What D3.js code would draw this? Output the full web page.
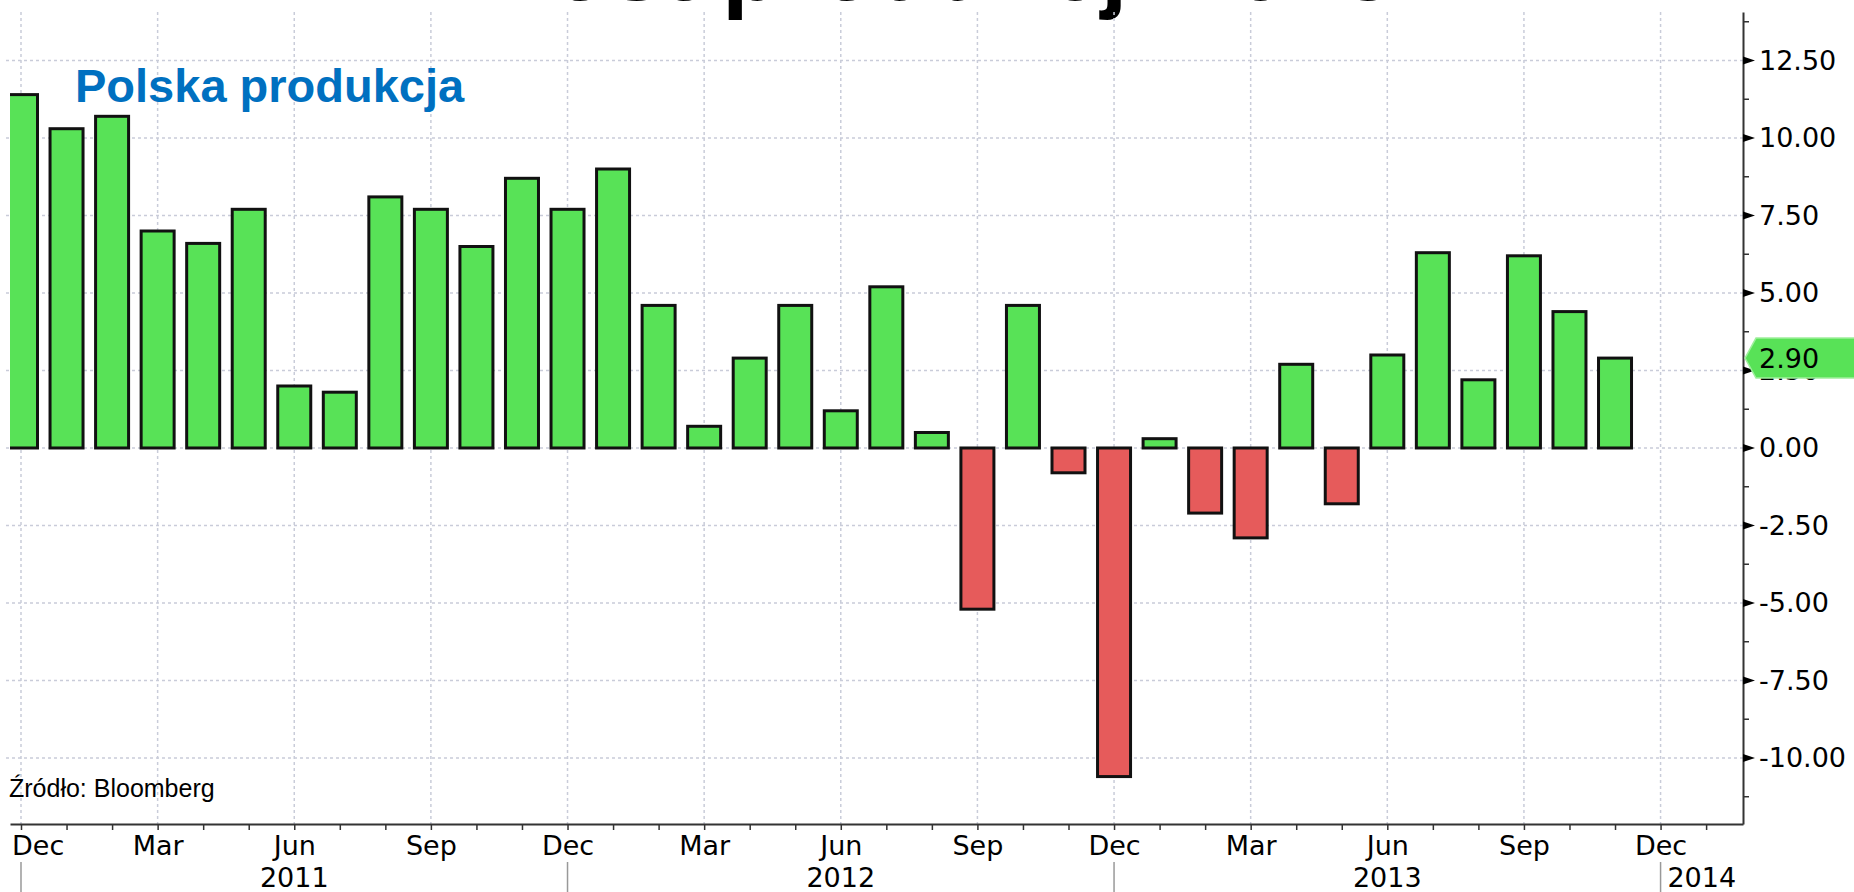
<!DOCTYPE html>
<html><head><meta charset="utf-8">
<script src="https://cdn.jsdelivr.net/npm/d3@7"></script>
<style>
html,body{margin:0;padding:0;background:#fff;overflow:hidden;}
svg{display:block;}
</style></head>
<body>
<svg id="chart" width="1854" height="892"></svg>
<script>
// ---- data ----
const months = ["2010-12","2011-01","2011-02","2011-03","2011-04","2011-05","2011-06","2011-07","2011-08","2011-09","2011-10","2011-11",
  "2011-12","2012-01","2012-02","2012-03","2012-04","2012-05","2012-06","2012-07","2012-08","2012-09","2012-10","2012-11",
  "2012-12","2013-01","2013-02","2013-03","2013-04","2013-05","2013-06","2013-07","2013-08","2013-09","2013-10","2013-11"];
const values = [11.4,10.3,10.7,7.0,6.6,7.7,2.0,1.8,8.1,7.7,6.5,8.7,
  7.7,9.0,4.6,0.7,2.9,4.6,1.2,5.2,0.5,-5.2,4.6,-0.8,
  -10.6,0.3,-2.1,-2.9,2.7,-1.8,3.0,6.3,2.2,6.2,4.4,2.9];
const quarterLabels = ["Dec","Mar","Jun","Sep","Dec","Mar","Jun","Sep","Dec","Mar","Jun","Sep","Dec"];
const yearLabels = ["2011","2012","2013","2014"];
const yTicks = [12.5,10,7.5,5,2.5,0,-2.5,-5,-7.5,-10];
const lastValue = 2.90;
const seriesName = "Polska produkcja";
const sourceText = "Źródło: Bloomberg";
const titleText = "Wzrost produkcji 2013";

// ---- layout ----
const svg = d3.select("#chart");
const L = 10, R = 1743, T = 12, B = 824;
const x = d3.scaleLinear().domain([-0.2415, 37.81]).range([L, R]);
const y = d3.scaleLinear().domain([-12.13, 14.065]).range([B, T]);
const axisFont = "'DejaVu Sans', Verdana, sans-serif";
const gridColor = "#c9ccd9";
const fmt = d3.formatLocale({decimal:".", thousands:",", grouping:[3], currency:["",""], minus:"-"}).format(".2f");

// title (mostly clipped at top)
const title = svg.append("text").attr("y", 0).attr("x", 0)
  .attr("font-family", "'Liberation Sans', Arial, sans-serif").attr("font-weight", "bold")
  .attr("font-size", 96).attr("fill", "#000").text(titleText);
const pPos = title.node().getStartPositionOfChar(titleText.indexOf("p")).x;
title.attr("x", 722 - pPos);

// gridlines
const g = svg.append("g");
g.selectAll(".hg").data(yTicks).join("line")
  .attr("x1", L - 4).attr("x2", R).attr("y1", d => y(d)).attr("y2", d => y(d))
  .attr("stroke", gridColor).attr("stroke-width", 1.5).attr("stroke-dasharray", "3,3");
const quarterIdx = d3.range(0, 37, 3);
g.selectAll(".vg").data(quarterIdx).join("line")
  .attr("x1", d => x(d)).attr("x2", d => x(d)).attr("y1", T).attr("y2", B)
  .attr("stroke", gridColor).attr("stroke-width", 1.5).attr("stroke-dasharray", "3,3");

// bars
svg.append("clipPath").attr("id", "plotclip").append("rect")
  .attr("x", L).attr("y", 0).attr("width", R - L).attr("height", B);
const bw = 33;
svg.append("g").attr("clip-path", "url(#plotclip)")
  .selectAll("rect").data(values).join("rect")
  .attr("x", (d, i) => x(i) - bw / 2)
  .attr("width", bw)
  .attr("y", d => y(Math.max(0, d)))
  .attr("height", d => Math.abs(y(d) - y(0)))
  .attr("fill", d => d >= 0 ? "#58e257" : "#e65b5b")
  .attr("stroke", "#111").attr("stroke-width", 3);

// series label
svg.append("text").attr("x", 75).attr("y", 102)
  .attr("font-family", "'Liberation Sans', Arial, sans-serif").attr("font-weight", "bold")
  .attr("font-size", 47).attr("fill", "#0070c0").text(seriesName);

// source
svg.append("text").attr("x", 9).attr("y", 797)
  .attr("font-family", "'Liberation Sans', Arial, sans-serif")
  .attr("font-size", 25).attr("fill", "#000").text(sourceText);

// x axis: monthly ticks
const xAxisG = svg.append("g").attr("transform", `translate(0,${B})`)
  .call(d3.axisBottom(x).tickValues(d3.range(0, 38)).tickSize(6).tickSizeOuter(0).tickFormat(""));
xAxisG.select(".domain").attr("stroke", "#333").attr("stroke-width", 2);
xAxisG.selectAll(".tick line").attr("stroke", "#333").attr("stroke-width", 1.5);

// x labels (quarters)
const xLab = svg.append("g").attr("transform", `translate(0,${B})`)
  .call(d3.axisBottom(x).tickValues(quarterIdx).tickSize(0).tickPadding(12)
    .tickFormat((d, i) => quarterLabels[i]));
xLab.select(".domain").remove();
xLab.selectAll("text").attr("font-family", axisFont).attr("font-size", 27).attr("fill", "#000");
xLab.selectAll("text").each(function() {
  const bb = this.getBBox();
  const t = d3.select(this.parentNode).attr("transform");
  const tx = +t.match(/translate\(([-\d.]+)/)[1];
  if (tx + bb.x < 12) d3.select(this).attr("x", 12 - (tx + bb.x));
});

// year separators and labels
const yearBounds = [0, 12, 24, 36];
svg.append("g").selectAll("line").data(yearBounds).join("line")
  .attr("x1", d => x(d)).attr("x2", d => x(d)).attr("y1", 862).attr("y2", 892)
  .attr("stroke", "#999").attr("stroke-width", 1.5);
const yearCenters = [6, 18, 30, (36 + x.domain()[1]) / 2];
svg.append("g").selectAll("text").data(yearLabels).join("text")
  .attr("x", (d, i) => x(yearCenters[i])).attr("y", 887)
  .attr("text-anchor", "middle").attr("font-family", axisFont).attr("font-size", 27)
  .attr("fill", "#000").text(d => d);

// y axis on right
const yAxisG = svg.append("g").attr("transform", `translate(${R},0)`)
  .call(d3.axisRight(y).tickValues(yTicks).tickSize(0).tickPadding(16).tickFormat(fmt));
yAxisG.select(".domain").attr("stroke", "#333").attr("stroke-width", 2);
yAxisG.selectAll("text").attr("font-family", axisFont).attr("font-size", 27).attr("fill", "#000");
// minor ticks
const minor = d3.range(-11.25, 14, 2.5);
svg.append("g").selectAll("line").data(minor).join("line")
  .attr("x1", R).attr("x2", R + 6).attr("y1", d => y(d)).attr("y2", d => y(d))
  .attr("stroke", "#333").attr("stroke-width", 1.5);
// triangle markers
svg.append("g").selectAll("path").data(yTicks).join("path")
  .attr("d", d => `M${R},${y(d) - 4}L${R + 12},${y(d)}L${R},${y(d) + 4}Z`)
  .attr("fill", "#000");

// last value tag
const ty = y(lastValue);
svg.append("path")
  .attr("d", `M${R + 2},${ty}L${R + 13},${ty - 20}L1856,${ty - 20}L1856,${ty + 20}L${R + 13},${ty + 20}Z`)
  .attr("fill", "#58e257").attr("stroke", "#9ef09c").attr("stroke-width", 1.5);
svg.append("text").attr("x", R + 16).attr("y", ty).attr("dy", "0.35em")
  .attr("font-family", axisFont).attr("font-size", 27).attr("fill", "#000")
  .text(fmt(lastValue));
</script>
</body></html>
